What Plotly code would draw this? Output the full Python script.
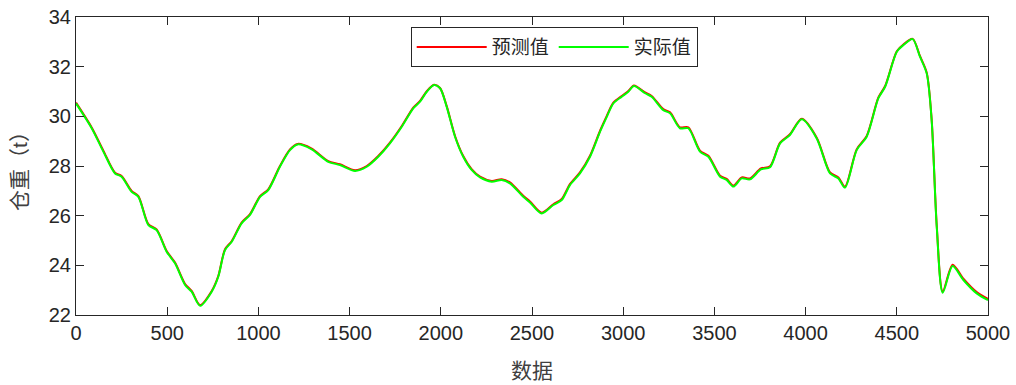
import plotly.graph_objects as go

# sample index (x) and values
x_idx = [0, 86, 150, 214, 250, 305, 342, 397, 442, 497, 543, 598, 634, 680, 744, 780,
         817, 854, 908, 954, 1009, 1054, 1118, 1173, 1215, 1290, 1383, 1447, 1530, 1594,
         1657, 1721, 1786, 1849, 1886, 1923, 1963, 1996, 2032, 2078, 2123, 2169, 2215,
         2279, 2334, 2379, 2452, 2489, 2553, 2617, 2663, 2708, 2763, 2818, 2873, 2910,
         2946, 2992, 3028, 3059, 3120, 3156, 3220, 3257, 3311, 3357, 3421, 3467, 3531,
         3567, 3604, 3650, 3695, 3755, 3805, 3860, 3914, 3979, 4061, 4134, 4180, 4216,
         4280, 4335, 4399, 4436, 4500, 4536, 4587, 4627, 4664, 4691, 4719, 4752, 4806,
         4865, 4938, 5000]

actual = [30.52, 29.52, 28.58, 27.70, 27.57, 26.96, 26.76, 25.62, 25.42, 24.55, 24.08,
          23.21, 22.94, 22.37, 22.94, 23.54, 24.62, 24.95, 25.69, 26.03, 26.76, 27.03,
          27.97, 28.64, 28.87, 28.68, 28.17, 28.04, 27.80, 27.97, 28.37, 28.91, 29.58,
          30.32, 30.59, 30.99, 31.26, 31.13, 30.39, 29.18, 28.37, 27.84, 27.54, 27.37,
          27.44, 27.30, 26.76, 26.53, 26.09, 26.43, 26.63, 27.23, 27.70, 28.37, 29.38,
          29.98, 30.52, 30.79, 30.99, 31.22, 30.93, 30.79, 30.25, 30.12, 29.52, 29.52,
          28.58, 28.37, 27.57, 27.44, 27.17, 27.50, 27.46, 27.86, 27.95, 28.91, 29.25,
          29.88, 29.11, 27.70, 27.50, 27.13, 28.64, 29.18, 30.73, 31.19, 32.60, 32.87,
          33.11, 32.40, 31.73, 29.85, 25.55, 22.90, 23.97, 23.41, 22.87, 22.60]

predicted = [30.55, 29.55, 28.62, 27.73, 27.60, 27.00, 26.79, 25.66, 25.45, 24.58, 24.11,
             23.25, 22.97, 22.40, 22.97, 23.57, 24.65, 24.98, 25.72, 26.06, 26.79, 27.06,
             28.00, 28.67, 28.89, 28.71, 28.20, 28.07, 27.83, 28.00, 28.40, 28.94, 29.61,
             30.35, 30.62, 31.01, 31.27, 31.14, 30.42, 29.21, 28.40, 27.87, 27.57, 27.40,
             27.47, 27.34, 26.80, 26.57, 26.12, 26.46, 26.67, 27.27, 27.74, 28.41, 29.42,
             30.02, 30.55, 30.82, 31.02, 31.24, 30.96, 30.82, 30.29, 30.16, 29.56, 29.56,
             28.62, 28.41, 27.61, 27.48, 27.21, 27.54, 27.50, 27.90, 27.99, 28.94, 29.28,
             29.90, 29.14, 27.74, 27.54, 27.17, 28.67, 29.21, 30.76, 31.22, 32.62, 32.89,
             33.12, 32.43, 31.76, 29.88, 25.60, 22.95, 24.02, 23.46, 22.92, 22.65]

x_ticks = [0, 500, 1000, 1500, 2000, 2500, 3000, 3500, 4000, 4500, 5000]
y_ticks = [22, 24, 26, 28, 30, 32, 34]

axis_col = "#262626"
font_fam = "Liberation Sans, Arial, Noto Sans CJK SC, sans-serif"

fig = go.Figure()
fig.add_trace(go.Scatter(x=x_idx, y=predicted, mode="lines", name="预测值",
                         line=dict(color="#ff0000", width=2, shape="spline", smoothing=0.8)))
fig.add_trace(go.Scatter(x=x_idx, y=actual, mode="lines", name="实际值",
                         line=dict(color="#00ff00", width=2, shape="spline", smoothing=0.8)))

axis_common = dict(showline=True, linecolor=axis_col, linewidth=1, mirror="ticks",
                   ticks="inside", ticklen=8, tickcolor=axis_col, tickwidth=1,
                   showgrid=False, zeroline=False, automargin=False,
                   ticklabeloverflow="allow",
                   tickfont=dict(size=20, color=axis_col, family=font_fam))

fig.update_xaxes(range=[0, 5000], tickvals=x_ticks,
                 title=dict(text="数据", font=dict(size=21, color="#404040", family=font_fam),
                            standoff=20),
                 **axis_common)
fig.update_yaxes(range=[22, 34], tickvals=y_ticks,
                 title=dict(text="仓重（t）", font=dict(size=21, color="#404040", family=font_fam),
                            standoff=15),
                 **axis_common)

fig.update_layout(
    width=1016, height=385,
    margin=dict(l=76, r=28, t=17, b=70, autoexpand=False),
    plot_bgcolor="white", paper_bgcolor="white",
    font=dict(family=font_fam, color=axis_col),
    showlegend=True,
    legend=dict(orientation="h", x=0.367, y=0.966, xanchor="left", yanchor="top",
                bgcolor="white", bordercolor=axis_col, borderwidth=1,
                font=dict(size=19, color=axis_col, family=font_fam),
                itemwidth=70, tracegroupgap=0),
)

fig.write_html("out.html", config={"displayModeBar": False},
               post_script="document.body.style.margin='0';document.body.style.padding='0';")
